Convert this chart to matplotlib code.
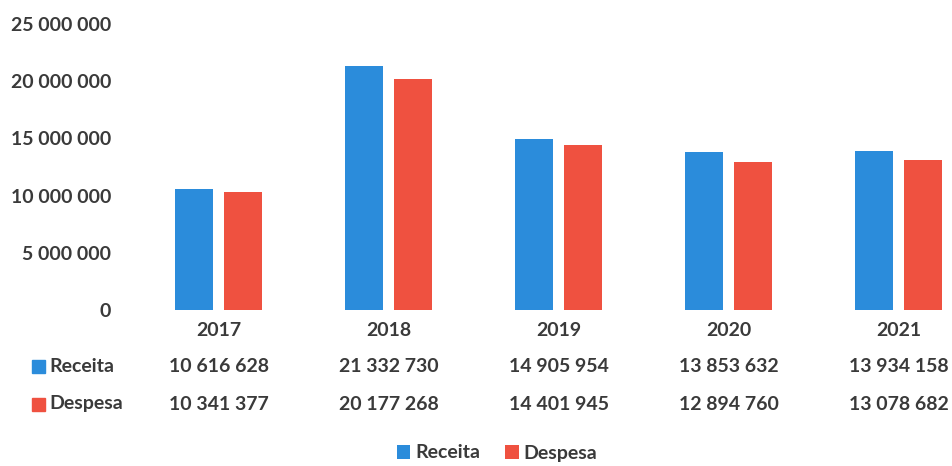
import matplotlib
matplotlib.use('Agg')
import matplotlib.pyplot as plt
from matplotlib.patches import Rectangle
from matplotlib.transforms import blended_transform_factory

years = ['2017', '2018', '2019', '2020', '2021']
receita = [10616628, 21332730, 14905954, 13853632, 13934158]
despesa = [10341377, 20177268, 14401945, 12894760, 13078682]
series_names = ['Receita', 'Despesa']
yticks = [0, 5000000, 10000000, 15000000, 20000000, 25000000]

BLUE = '#2B8CDB'
RED = '#EF5140'
TXT = '#3a3a3a'
W, H = 953, 466
FS = 14
FW = 'bold'

plt.rcParams['font.family'] = ['Lato', 'DejaVu Sans']


def fmt(v):
    return f'{v:,}'.replace(',', ' ')


def fy(py):
    # pixel row -> figure fraction
    return 1 - py / H


fig = plt.figure(figsize=(W / 100, H / 100), dpi=100)
ax = fig.add_axes([133.5 / W, fy(310), 1 - 133.5 / W, (310 - 24) / H])

x = list(range(len(years)))
bw = 0.22
off = 0.144
ax.bar([i - off for i in x], receita, bw, color=BLUE, label=series_names[0])
ax.bar([i + off for i in x], despesa, bw, color=RED, label=series_names[1])

ax.set_xlim(-0.5, 4.32)
ax.set_ylim(0, 25000000)
ax.set_yticks(yticks)
ax.set_yticklabels([fmt(t) for t in yticks], fontsize=FS, color=TXT, fontweight=FW)
ax.tick_params(axis='y', length=0, pad=16)
ax.set_xticks([])
for s in ax.spines.values():
    s.set_visible(False)

# data table below the plot
tr = blended_transform_factory(ax.transData, fig.transFigure)
for i, yr in enumerate(years):
    ax.text(i, fy(330), yr, transform=tr, ha='center', va='center',
            fontsize=FS, color=TXT, fontweight=FW, clip_on=False)
    ax.text(i, fy(366), fmt(receita[i]), transform=tr, ha='center', va='center',
            fontsize=FS, color=TXT, fontweight=FW, clip_on=False)
    ax.text(i, fy(404), fmt(despesa[i]), transform=tr, ha='center', va='center',
            fontsize=FS, color=TXT, fontweight=FW, clip_on=False)

for py, name, col in [(366, series_names[0], BLUE), (404, series_names[1], RED)]:
    fig.patches.append(Rectangle((32 / W, fy(py + 6.5)), 13 / W, 13 / H,
                                 transform=fig.transFigure, color=col))
    fig.text(49 / W, fy(py), name, ha='left', va='center',
             fontsize=FS, color=TXT, fontweight=FW)

leg = fig.legend(loc='center', bbox_to_anchor=(497 / W, fy(453)), ncol=2,
                 frameon=False, handlelength=0.7, handleheight=0.7,
                 handletextpad=0.25, columnspacing=1.3,
                 prop={'size': FS, 'weight': FW})
for t in leg.get_texts():
    t.set_color(TXT)

fig.savefig('out.png', dpi=100, facecolor='white')
